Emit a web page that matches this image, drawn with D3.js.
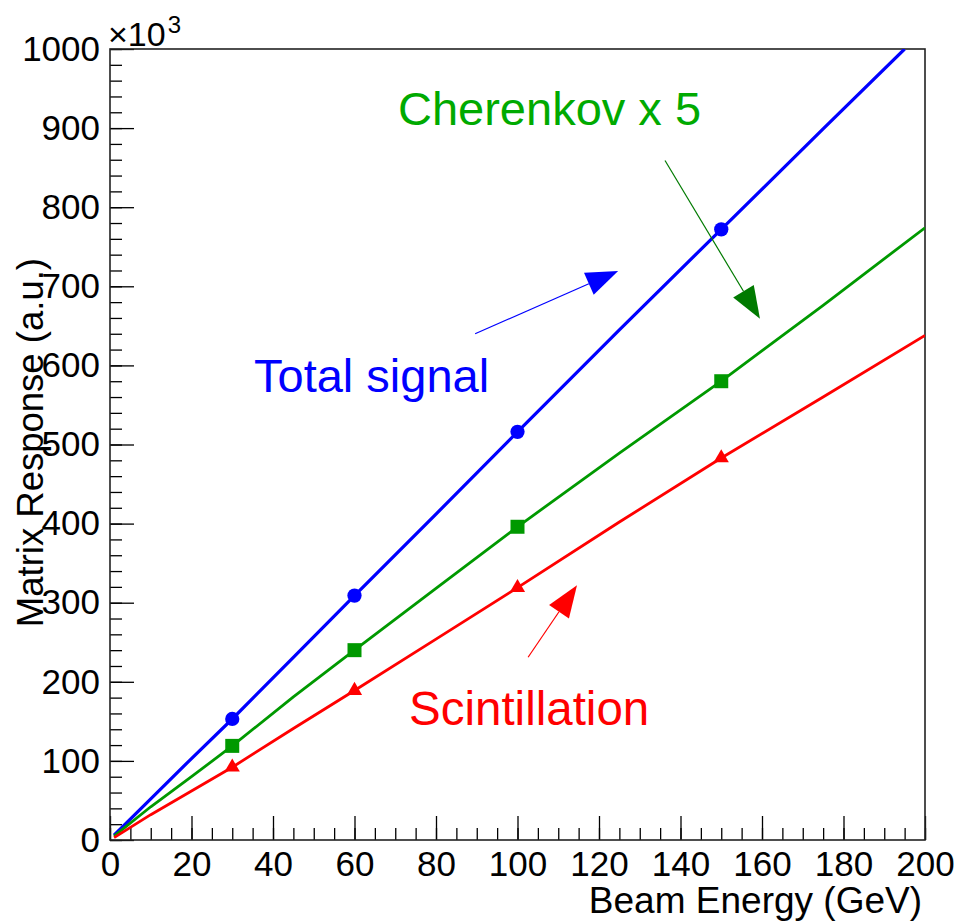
<!DOCTYPE html>
<html>
<head>
<meta charset="utf-8">
<script src="https://cdn.jsdelivr.net/npm/d3@7/dist/d3.min.js"></script>
<style>
  html, body { margin: 0; padding: 0; background: #fff; }
  svg { display: block; font-family: "Liberation Sans", Arial, Helvetica, sans-serif; }
</style>
</head>
<body>
<svg id="chart" width="961" height="922"></svg>
<script>
// ---- data ----
const xTicks = [0, 20, 40, 60, 80, 100, 120, 140, 160, 180, 200];
const yTicks = [0, 100, 200, 300, 400, 500, 600, 700, 800, 900, 1000];

const markerEnergies = [30, 60, 100, 150];
const totalMarkers = [153, 309, 516, 772];
const cherenkovMarkers = [119, 240, 396, 580];
const scintMarkers = [92, 189, 319, 483];

// line samples [energy, response]
const totalLine = [[1, 6], [10, 52], [20, 103], [30, 153], [45, 231], [60, 309], [80, 412], [100, 516], [125, 645], [150, 772], [175, 899], [195, 1000]];
const cherenkovLine = [[1, 5], [10, 42], [20, 80], [30, 119], [45, 181], [60, 240], [80, 318], [100, 396], [125, 489], [150, 580], [175, 676], [200, 774]];
const scintLine = [[1, 3], [10, 32], [20, 62], [30, 92], [45, 141], [60, 189], [80, 254], [100, 319], [125, 402], [150, 483], [175, 560], [200, 638]];

// annotation arrows in data coordinates [x1, y1, x2(tip), y2(tip)]
const blueArrow = [89.6, 640, 124.7, 719.5];
const greenArrow = [136.2, 859, 159.5, 659];
const redArrow = [102.6, 231, 114.6, 322];

// ---- layout ----
const svg = d3.select("#chart");
const L = 110, R = 925, T = 49, B = 840;
const x = d3.scaleLinear().domain([0, 200]).range([L, R]);
const y = d3.scaleLinear().domain([0, 1000]).range([B, T]);

const fontAxis = 35;

// minor ticks
svg.append("g").attr("transform", `translate(0,${B})`)
  .call(d3.axisBottom(x).tickValues(d3.range(0, 201, 5)).tickSize(-12).tickSizeOuter(0).tickFormat(""))
  .call(g => g.select(".domain").remove())
  .call(g => g.selectAll("line").attr("stroke", "#000").attr("stroke-width", 1.3));
svg.append("g").attr("transform", `translate(${L},0)`)
  .call(d3.axisLeft(y).tickValues(d3.range(0, 1001, 20)).tickSize(-12).tickSizeOuter(0).tickFormat(""))
  .call(g => g.select(".domain").remove())
  .call(g => g.selectAll("line").attr("stroke", "#000").attr("stroke-width", 1.3));

// major ticks + labels
svg.append("g").attr("transform", `translate(0,${B})`)
  .call(d3.axisBottom(x).tickValues(xTicks).tickSize(-24).tickSizeOuter(0).tickPadding(11).tickFormat(d3.format("d")))
  .call(g => g.select(".domain").remove())
  .call(g => g.selectAll("line").attr("stroke", "#000").attr("stroke-width", 1.3))
  .call(g => g.selectAll("text").attr("fill", "#000").style("font-size", fontAxis + "px").style("font-family", "Liberation Sans, Arial, sans-serif"));
svg.append("g").attr("transform", `translate(${L},0)`)
  .call(d3.axisLeft(y).tickValues(yTicks).tickSize(-24).tickSizeOuter(0).tickPadding(10).tickFormat(d3.format("d")))
  .call(g => g.select(".domain").remove())
  .call(g => g.selectAll("line").attr("stroke", "#000").attr("stroke-width", 1.3))
  .call(g => g.selectAll("text").attr("fill", "#000").style("font-size", fontAxis + "px").style("font-family", "Liberation Sans, Arial, sans-serif"));

// frame
svg.append("rect").attr("x", L).attr("y", T).attr("width", R - L).attr("height", B - T)
  .attr("fill", "none").attr("stroke", "#222").attr("stroke-width", 1.6);

// exponent label
const ex = svg.append("text").attr("x", L - 2).attr("y", 46).attr("font-size", 34).attr("fill", "#000");
ex.append("tspan").text("×10");
ex.append("tspan").attr("font-size", 24).attr("dx", 2).attr("dy", -13).text("3");

// axis titles
svg.append("text").attr("x", 922).attr("y", 913).attr("text-anchor", "end")
  .attr("font-size", 37).attr("fill", "#000").text("Beam Energy (GeV)");
svg.append("text").attr("transform", "translate(43,258) rotate(-90)").attr("text-anchor", "end")
  .attr("font-size", 36.5).attr("fill", "#000").text("Matrix Response (a.u.)");

// clip for lines
svg.append("clipPath").attr("id", "clip").append("rect")
  .attr("x", L).attr("y", T).attr("width", R - L).attr("height", B - T);

const line = d3.line().x(d => x(d[0])).y(d => y(d[1]));
const series = [
  { pts: totalLine, color: "#0000ff", w: 3.2, markers: totalMarkers, shape: d3.symbolCircle, size: 160 },
  { pts: cherenkovLine, color: "#009900", w: 2.8, markers: cherenkovMarkers, shape: d3.symbolSquare, size: 196 },
  { pts: scintLine, color: "#ff0000", w: 2.8, markers: scintMarkers, shape: d3.symbolTriangle, size: 100 }
];
const gl = svg.append("g").attr("clip-path", "url(#clip)");
series.forEach(s => {
  gl.append("path").datum(s.pts).attr("d", line).attr("fill", "none")
    .attr("stroke", s.color).attr("stroke-width", s.w).attr("stroke-linejoin", "round");
  gl.selectAll(null).data(markerEnergies.map((e, i) => [e, s.markers[i]])).enter()
    .append("path").attr("d", d3.symbol().type(s.shape).size(s.size))
    .attr("transform", d => `translate(${x(d[0])},${y(d[1])})`).attr("fill", s.color);
});

// arrows
function arrow(a, color, headLen, headW) {
  const x1 = x(a[0]), y1 = y(a[1]), x2 = x(a[2]), y2 = y(a[3]);
  const ang = Math.atan2(y2 - y1, x2 - x1);
  const bx = x2 - headLen * Math.cos(ang), by = y2 - headLen * Math.sin(ang);
  const px = -Math.sin(ang) * headW / 2, py = Math.cos(ang) * headW / 2;
  svg.append("line").attr("x1", x1).attr("y1", y1).attr("x2", bx).attr("y2", by)
    .attr("stroke", color).attr("stroke-width", 1.2);
  svg.append("path").attr("d", `M${x2},${y2}L${bx + px},${by + py}L${bx - px},${by - py}Z`).attr("fill", color);
}
arrow(blueArrow, "#0000ff", 32, 24);
arrow(greenArrow, "#007a00", 32, 24);
arrow(redArrow, "#ff0000", 32, 24);

// annotation labels
svg.append("text").attr("x", 254).attr("y", 392).attr("font-size", 47).attr("fill", "#0000ff").text("Total signal");
svg.append("text").attr("x", 398).attr("y", 125).attr("font-size", 47).attr("fill", "#00aa00").text("Cherenkov x 5");
svg.append("text").attr("x", 409).attr("y", 725).attr("font-size", 47.5).attr("fill", "#ff0000").text("Scintillation");
</script>
</body>
</html>
